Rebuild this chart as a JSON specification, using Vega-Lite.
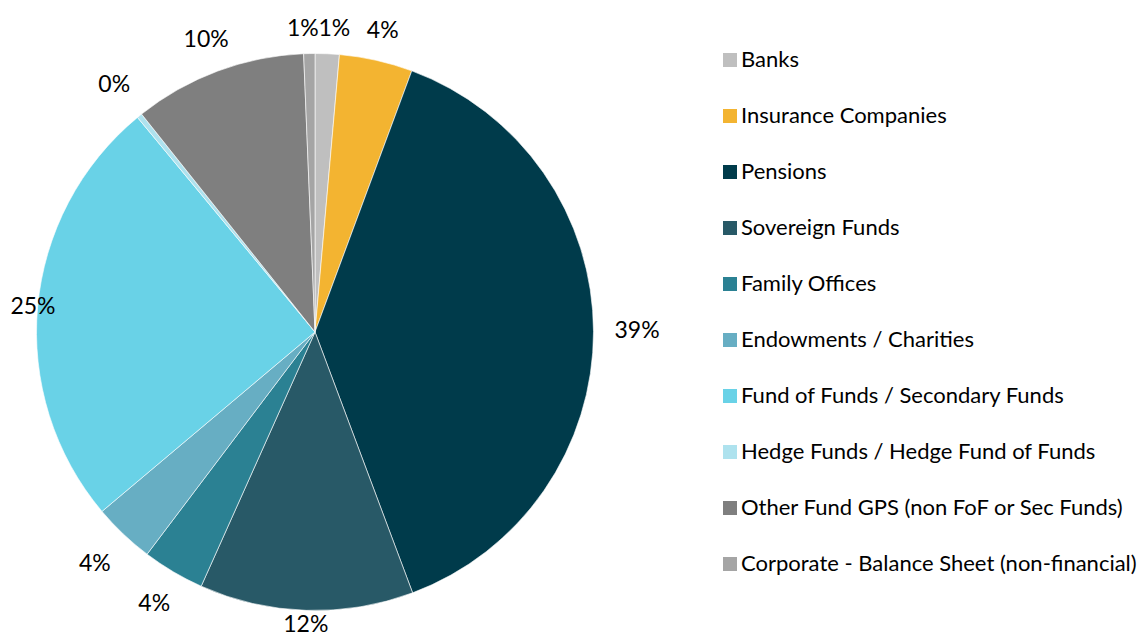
{
  "$schema": "https://vega.github.io/schema/vega-lite/v6.json",
  "autosize": {"type": "none"},
  "width": 630,
  "height": 608,
  "padding": {"top": 28, "left": 0, "right": 517, "bottom": 0},
  "background": "white",
  "config": {"view": {"stroke": null}, "font": "Lato"},
  "data": {
    "values": [
      {"idx": 1, "investor": "Banks", "share": 0.014},
      {"idx": 2, "investor": "Insurance Companies", "share": 0.0425},
      {"idx": 3, "investor": "Pensions", "share": 0.3865},
      {"idx": 4, "investor": "Sovereign Funds", "share": 0.124},
      {"idx": 5, "investor": "Family Offices", "share": 0.036},
      {"idx": 6, "investor": "Endowments / Charities", "share": 0.0356},
      {"idx": 7, "investor": "Fund of Funds / Secondary Funds", "share": 0.2514},
      {"idx": 8, "investor": "Hedge Funds / Hedge Fund of Funds", "share": 0.003},
      {"idx": 9, "investor": "Other Fund GPS (non FoF or Sec Funds)", "share": 0.1005},
      {"idx": 10, "investor": "Corporate - Balance Sheet (non-financial)", "share": 0.0065}
    ]
  },
  "encoding": {
    "theta": {"field": "share", "type": "quantitative", "stack": true},
    "order": {"field": "idx", "type": "quantitative"}
  },
  "layer": [
    {
      "mark": {"type": "arc", "radius": 278.5, "stroke": "#ffffff", "strokeWidth": 0.6},
      "encoding": {
        "color": {
          "field": "investor",
          "type": "nominal",
          "sort": null,
          "scale": {
            "domain": ["Banks", "Insurance Companies", "Pensions", "Sovereign Funds", "Family Offices", "Endowments / Charities", "Fund of Funds / Secondary Funds", "Hedge Funds / Hedge Fund of Funds", "Other Fund GPS (non FoF or Sec Funds)", "Corporate - Balance Sheet (non-financial)"],
            "range": ["#BFBFBF", "#F3B431", "#003B4B", "#285967", "#2B8193", "#67AEC3", "#69D2E7", "#AEE2EE", "#7F7F7F", "#A5A5A5"]
          },
          "legend": {
            "orient": "none",
            "legendX": 719,
            "legendY": 21,
            "title": null,
            "padding": 0,
            "symbolType": "square",
            "symbolSize": 196,
            "symbolStrokeWidth": 0,
            "labelFont": "Lato",
            "labelFontSize": 22,
            "labelColor": "#000000",
            "labelOffset": 0,
            "labelLimit": 600,
            "rowPadding": 34
          }
        }
      }
    },
    {
      "mark": {
        "type": "text",
        "fontSize": 23,
        "color": "#000000",
        "font": "Lato",
        "radius": {"expr": "min(292 + 30*abs(sin(PI*(datum.share_start+datum.share_end))) + 10*abs(cos(PI*(datum.share_start+datum.share_end))), sin(PI*(datum.share_start+datum.share_end)) < 0 ? 282/abs(sin(PI*(datum.share_start+datum.share_end))) : 999, cos(PI*(datum.share_start+datum.share_end)) < 0 ? 293/abs(cos(PI*(datum.share_start+datum.share_end))) : 999)"},
        "dx": {"expr": "cos(PI*(datum.share_start+datum.share_end)) > 0.98 ? (sin(PI*(datum.share_start+datum.share_end)) < 0 ? -6 : 6) : 0"}
      },
      "encoding": {
        "detail": {"field": "investor", "type": "nominal"},
        "text": {"field": "share", "type": "quantitative", "format": ".0%"}
      }
    }
  ]
}
